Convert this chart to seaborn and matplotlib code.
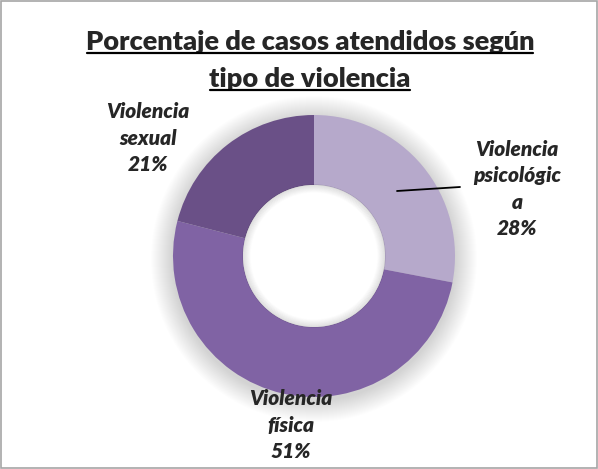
import numpy as np
import matplotlib
matplotlib.use("Agg")
import matplotlib.pyplot as plt
import matplotlib.patches as mpatches
import seaborn as sns

categorias = ["Violencia\npsicológic\na", "Violencia\nfísica", "Violencia\nsexual"]
porcentajes = [28, 51, 21]
colores = ["#B6A9CB", "#8063A4", "#6A5087"]
titulo = ["Porcentaje de casos atendidos según", "tipo de violencia"]

sns.set_theme(style="white")
plt.rcParams["font.family"] = ["Lato", "DejaVu Sans"]

W, H = 598, 469
fig = plt.figure(figsize=(W / 100, H / 100), dpi=100)
ax = fig.add_axes([0, 0, 1, 1])

cx, cy, r, r_in = 314, H - 256, 141, 71

# sombra suave alrededor del anillo
for i in range(22):
    ax.add_patch(mpatches.Circle((cx, cy - 3), r + 22 - i, color="black",
                                 alpha=0.009, lw=0, zorder=1))

ax.pie(porcentajes, colors=colores, startangle=90, counterclock=False,
       center=(cx, cy), radius=r, wedgeprops=dict(width=r - r_in, linewidth=0, zorder=2),
       frame=True)

# agujero blanco con sombra interior ligera
ax.add_patch(mpatches.Circle((cx, cy), r_in, color="white", lw=0, zorder=3))
for i in range(8):
    ax.add_patch(mpatches.Circle((cx, cy), r_in - i, fill=False, edgecolor="black",
                                 lw=1, alpha=0.012 * (8 - i), zorder=3))

ax.set_xlim(0, W)
ax.set_ylim(0, H)
ax.set_aspect("equal")
ax.axis("off")

lab_pos = [(517, H - 189), (291, H - 425), (148, H - 138)]
for cat, p, (x, y) in zip(categorias, porcentajes, lab_pos):
    ax.text(x, y, f"{cat}\n{p}%", ha="center", va="center", fontsize=15,
            fontweight="heavy", fontstyle="italic", linespacing=1.45, zorder=5)
ax.plot([397, 460], [H - 191, H - 187], color="black", lw=1.3, zorder=5)

# título en dos líneas, subrayado
for linea, yb, (x0, x1), yu in zip(titulo, [50, 87], [(87, 533), (210, 410)], [53, 90]):
    ax.text(310, H - yb, linea, ha="center", va="baseline", fontsize=19.5,
            fontweight="heavy", zorder=5)
    ax.plot([x0, x1], [H - yu, H - yu], color="black", lw=1.6, zorder=5)

ax.add_patch(mpatches.Rectangle((1, 1), W - 2, H - 2, fill=False,
                                edgecolor="#A6A6A6", lw=1.2, zorder=6))

fig.savefig("out.png", dpi=100)
